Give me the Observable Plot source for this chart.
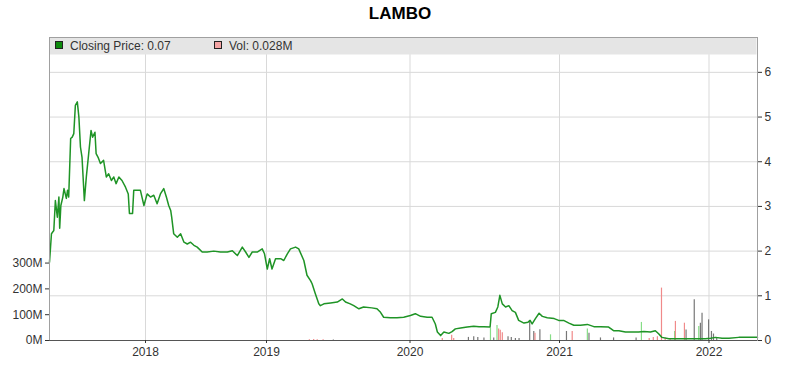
<!DOCTYPE html>
<html><head><meta charset="utf-8">
<script src="https://cdn.jsdelivr.net/npm/d3@7"></script>
<script src="https://cdn.jsdelivr.net/npm/@observablehq/plot@0.6"></script>
<style>body{margin:0;background:#fff;font-family:"Liberation Sans",Arial,sans-serif}</style>
</head><body><div id="chart"></div>
<script>
const title = "LAMBO";
const legendLabels = ["Closing Price: 0.07", "Vol: 0.028M"];

const priceDates = [
"2017-05-01","2017-05-06","2017-05-12","2017-05-16","2017-05-21","2017-05-25","2017-05-27","2017-05-30",
"2017-06-04","2017-06-07","2017-06-13","2017-06-16","2017-06-19","2017-06-24","2017-06-28","2017-07-02",
"2017-07-06","2017-07-11","2017-07-15","2017-07-19","2017-07-23","2017-07-29","2017-08-03","2017-08-09",
"2017-08-15","2017-08-19","2017-08-25","2017-08-28","2017-09-02","2017-09-08","2017-09-16","2017-09-23",
"2017-09-29","2017-10-06","2017-10-12","2017-10-18","2017-10-25","2017-11-02","2017-11-11","2017-11-18",
"2017-11-21","2017-11-29","2017-12-02","2017-12-11","2017-12-19","2017-12-28",
"2018-01-06","2018-01-16","2018-01-26","2018-02-05","2018-02-15","2018-02-25","2018-03-05","2018-03-12",
"2018-03-18","2018-03-21","2018-03-27","2018-04-07","2018-04-17","2018-04-27","2018-05-07","2018-05-17",
"2018-05-27","2018-06-06","2018-06-21","2018-07-06","2018-07-26","2018-08-15","2018-09-05","2018-09-20",
"2018-10-05","2018-10-20","2018-10-30","2018-11-09","2018-11-19","2018-12-04","2018-12-19","2018-12-26",
"2019-01-03","2019-01-09","2019-01-15","2019-01-24","2019-02-06","2019-02-14","2019-02-23","2019-03-03",
"2019-03-16","2019-03-24","2019-04-06","2019-04-14","2019-04-23","2019-04-27","2019-05-05","2019-05-14",
"2019-05-18","2019-05-27","2019-06-13","2019-06-30","2019-07-13","2019-07-21","2019-08-02","2019-08-11",
"2019-08-24","2019-09-05","2019-09-26","2019-10-09","2019-10-18","2019-10-26","2019-11-12","2019-11-29",
"2019-12-16",
"2020-01-02","2020-01-14","2020-01-27","2020-02-12","2020-02-24","2020-03-03","2020-03-08","2020-03-16",
"2020-03-24","2020-04-05","2020-04-13","2020-04-21","2020-05-04","2020-05-20","2020-06-05","2020-06-18",
"2020-06-30","2020-07-15","2020-07-18","2020-07-28","2020-08-03","2020-08-08","2020-08-14","2020-08-22",
"2020-08-30","2020-09-07","2020-09-15","2020-09-23","2020-10-06","2020-10-16","2020-10-21","2020-10-26",
"2020-11-03","2020-11-12","2020-11-20","2020-12-02","2020-12-19","2020-12-30",
"2021-01-11","2021-01-24","2021-02-05","2021-02-21","2021-03-10","2021-03-26","2021-04-11","2021-05-01",
"2021-05-13","2021-05-26","2021-06-11","2021-06-27","2021-07-13","2021-07-26","2021-08-11","2021-08-23",
"2021-08-31","2021-09-08","2021-09-25","2021-10-19","2021-11-12","2021-11-29","2021-12-23",
"2022-01-05","2022-01-17","2022-02-02","2022-02-19","2022-03-15","2022-04-08","2022-04-30"
];
const prices = [
1.75,2.39,2.46,3.13,2.76,3.21,2.51,3.02,
3.21,3.40,3.18,3.36,3.21,4.52,4.55,4.63,
5.26,5.34,5.00,4.33,4.10,3.13,3.66,4.18,
4.70,4.55,4.66,4.18,4.10,3.96,4.03,3.66,
3.73,3.58,3.66,3.51,3.66,3.58,3.43,3.28,
2.84,2.84,3.36,3.36,3.36,3.02,
3.28,3.21,3.25,3.06,3.28,3.40,3.21,3.02,
2.91,2.76,2.39,2.31,2.39,2.20,2.16,2.20,
2.13,2.09,1.98,1.98,2.00,1.98,1.98,2.01,
1.90,2.09,1.98,1.86,1.98,1.98,2.05,1.94,
1.60,1.83,1.60,1.83,1.83,1.79,1.94,2.05,
2.09,2.05,1.79,1.46,1.34,1.27,1.05,0.82,
0.78,0.82,0.84,0.86,0.93,0.86,0.82,0.78,
0.71,0.75,0.73,0.71,0.63,0.52,0.51,0.51,
0.52,
0.56,0.60,0.54,0.52,0.52,0.37,0.19,0.11,
0.19,0.16,0.20,0.26,0.28,0.30,0.32,0.31,
0.31,0.30,0.60,0.63,0.75,1.01,0.82,0.75,
0.78,0.67,0.63,0.45,0.39,0.41,0.45,0.37,
0.49,0.61,0.54,0.51,0.49,0.45,
0.45,0.39,0.34,0.34,0.36,0.31,0.31,0.30,
0.22,0.22,0.19,0.19,0.19,0.20,0.19,0.22,
0.15,0.07,0.04,0.04,0.04,0.04,0.04,
0.05,0.07,0.05,0.05,0.07,0.07,0.07
];

const volDates = [
"2019-04-20","2019-05-01","2019-05-10","2019-05-25","2019-06-20",
"2020-03-20","2020-04-12","2020-04-17","2020-05-23","2020-06-05","2020-06-15","2020-06-30","2020-07-16",
"2020-07-24","2020-08-01","2020-08-05","2020-08-09","2020-08-14","2020-08-28","2020-09-05","2020-09-15",
"2020-09-24","2020-10-20","2020-10-30","2020-11-02","2020-11-14","2020-12-10",
"2021-01-18","2021-02-01","2021-03-10","2021-03-14","2021-04-11","2021-05-13","2021-07-07","2021-07-20",
"2021-08-08","2021-08-18","2021-08-28","2021-09-07","2021-09-16","2021-09-28","2021-10-09","2021-10-11",
"2021-11-02","2021-11-06","2021-11-26","2021-12-07","2021-12-11","2021-12-15","2021-12-31",
"2022-01-07","2022-01-12","2022-01-20"
];
const volumes = [ // millions
3,4,3,3,2,
8,20,8,12,15,12,10,47,
10,58,45,40,30,15,12,8,
8,77,35,28,42,22,
35,35,45,28,10,10,10,70,
8,12,15,203,10,6,35,74,
67,41,158,54,67,106,80,
35,25,8
];
const volDirs = [ // d = down, u = up, f = flat
"d","d","d","d","f",
"d","d","d","f","f","f","f","u",
"f","u","d","d","d","f","f","f",
"f","f","f","d","f","u",
"f","d","u","f","f","f","f","u",
"d","d","d","d","d","d","u","d",
"d","f","f","u","f","f","f",
"f","f","f"
];

const priceTicks = [0,1,2,3,4,5,6];
const volTicks = [0,100,200,300];
const yearTicks = ["2018-01-01","2019-01-01","2020-01-01","2021-01-01","2022-01-01"];
const priceMax = 6.78;   // price at top of plot frame
const volMax = 1174;     // volume (M) at top of plot frame

const k = priceMax / volMax;
const priceData = priceDates.map((d, i) => ({date: new Date(d), price: prices[i]}));
const volData = volDates.map((d, i) => ({date: new Date(d), vol: volumes[i], dir: volDirs[i]}));
const dirColor = {u: "#86dd86", d: "#f08a8a", f: "#777777"};

const W = 800, H = 372, mL = 49, mR = 43, mT = 37, mB = 32;
const xDomain = [new Date(priceDates[0]), ...yearTicks.map(d => new Date(d)), new Date(priceDates[priceDates.length - 1])];
const xRange = [mL, 145, 266, 409.5, 559, 708.5, W - mR];

function overlay(index, scales, values, dims) {
  const g = d3.create("svg:g").attr("font-family", "'Liberation Sans', Arial, sans-serif");
  const x0 = dims.marginLeft, x1 = dims.width - dims.marginRight, y0 = dims.marginTop;
  g.append("text").attr("x", dims.width / 2).attr("y", 19).attr("text-anchor", "middle")
    .attr("font-size", 17).attr("font-weight", "bold").attr("fill", "#000").text(title);
  g.append("rect").attr("x", x0 + 0.5).attr("y", y0 + 0.5).attr("width", x1 - x0 - 1).attr("height", 17)
    .attr("fill", "#e5e5e5");
  const items = [{label: legendLabels[0], color: "#0d8a0d", x: x0 + 6},
                 {label: legendLabels[1], color: "#f4a4a4", x: x0 + 165}];
  for (const it of items) {
    g.append("rect").attr("x", it.x + 0.5).attr("y", y0 + 4.5).attr("width", 7).attr("height", 7)
      .attr("fill", it.color).attr("stroke", "#222").attr("stroke-width", 1);
    g.append("text").attr("x", it.x + 15).attr("y", y0 + 13).attr("text-anchor", "start")
      .attr("font-size", 12).attr("fill", "#333").text(it.label);
  }
  return g.node();
}

const chart = Plot.plot({
  width: W, height: H,
  marginLeft: mL, marginRight: mR, marginTop: mT, marginBottom: mB,
  style: {fontFamily: "'Liberation Sans', Arial, sans-serif", fontSize: "12px", color: "#333", background: "#fff"},
  x: {type: "utc", domain: xDomain, range: xRange},
  y: {domain: [0, priceMax]},
  marks: [
    Plot.gridY(priceTicks.slice(1), {stroke: "#d9d9d9", strokeOpacity: 1}),
    Plot.gridX(yearTicks.map(d => new Date(d)), {stroke: "#d9d9d9", strokeOpacity: 1}),
    Plot.ruleX(volData, {x: "date", y1: 0, y2: d => d.vol * k, stroke: d => dirColor[d.dir], strokeWidth: 1.2}),
    Plot.line(priceData, {x: "date", y: "price", stroke: "#1f9426", strokeWidth: 1.5}),
    overlay,
    Plot.frame({stroke: "#a0a0a0"}),
    Plot.ruleY([0], {stroke: "#555"}),
    Plot.axisY(priceTicks, {anchor: "right", tickSize: 4, tickPadding: 3, label: null, fontSize: 12}),
    Plot.axisY(volTicks.map(v => v * k), {anchor: "left", tickSize: 4, tickPadding: 3, label: null, fontSize: 12,
      tickFormat: d => Math.round(d / k) + "M"}),
    Plot.axisX(yearTicks.map(d => new Date(d)), {tickSize: 3, tickPadding: 4, label: null, fontSize: 12,
      tickFormat: d3.utcFormat("%Y")})
  ]
});
document.getElementById("chart").append(chart);
</script></body></html>
